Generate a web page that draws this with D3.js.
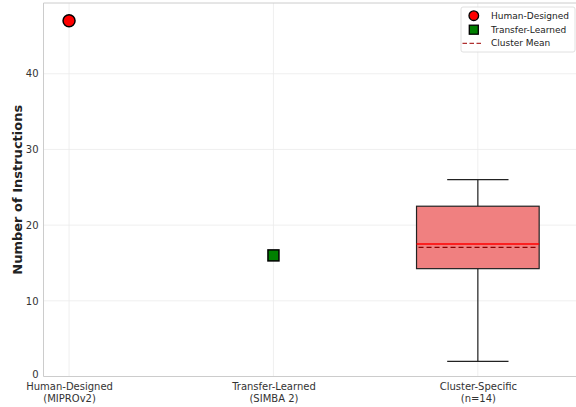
<!DOCTYPE html>
<html><head><meta charset="utf-8">
<script src="https://cdn.jsdelivr.net/npm/d3@7"></script>
<style>body{margin:0;background:#fff}svg{display:block;font-family:"DejaVu Sans",sans-serif}</style>
</head><body><svg id="c" width="576" height="407"></svg>
<script>
const categories = ["Human-Designed\n(MIPROv2)", "Transfer-Learned\n(SIMBA 2)", "Cluster-Specific\n(n=14)"];
const humanValue = 47;
const transferValue = 16;
const clusterStats = {min: 2, q1: 14.25, median: 17.5, q3: 22.5, max: 26, mean: 17.07};
const yTicks = [0, 10, 20, 30, 40];
const legendLabels = ["Human-Designed", "Transfer-Learned", "Cluster Mean"];

const svg = d3.select("#c");
const L = 43.5, T = 3, B = 376.5;
const x = d3.scaleLinear().domain([-0.125, 2.5]).range([L, L + 2.625 * 204.4]);
const y = d3.scaleLinear().domain([0, 49.35]).range([B, T]);
const R = 580;

const g = svg.append("g");
// grid
g.selectAll(".hg").data(yTicks).join("line")
  .attr("x1", L).attr("x2", R).attr("y1", d => y(d)).attr("y2", d => y(d))
  .attr("stroke", "#ebebeb").attr("stroke-width", 0.8);
g.selectAll(".vg").data([0,1,2]).join("line")
  .attr("x1", d => x(d)).attr("x2", d => x(d)).attr("y1", T).attr("y2", B)
  .attr("stroke", "#ebebeb").attr("stroke-width", 0.8);

// spines
g.append("line").attr("x1", L).attr("x2", L).attr("y1", T).attr("y2", B).attr("stroke", "#cccccc").attr("stroke-width", 1);
g.append("line").attr("x1", L).attr("x2", R).attr("y1", B).attr("y2", B).attr("stroke", "#cccccc").attr("stroke-width", 1);
g.append("line").attr("x1", L).attr("x2", R).attr("y1", T).attr("y2", T).attr("stroke", "#cccccc").attr("stroke-width", 1);

// y axis
const ya = d3.axisLeft(y).tickValues(yTicks).tickSize(0).tickPadding(5);
const yg = svg.append("g").attr("transform", `translate(${L},0)`).call(ya);
yg.select(".domain").remove();
yg.selectAll("text").attr("font-size", 10).attr("fill", "#333").attr("font-family", "DejaVu Sans");
yg.selectAll(".tick").filter(d => d === 0).select("text").attr("dy", "0.1em");

// x axis
const xa = d3.axisBottom(x).tickValues([0,1,2]).tickSize(0).tickFormat(() => "");
const xg = svg.append("g").attr("transform", `translate(0,${B})`).call(xa);
xg.select(".domain").remove();
xg.selectAll(".tick").each(function(d) {
  const lines = categories[d].split("\n");
  const t = d3.select(this).append("text").attr("fill", "#333").attr("font-size", 10)
    .attr("text-anchor", "middle").attr("font-family", "DejaVu Sans");
  lines.forEach((ln, i) => t.append("tspan").attr("x", 0).attr("y", 13.5 + i * 11.5).text(ln));
});

// y label
svg.append("text").attr("transform", `translate(22,${(T + B) / 2}) rotate(-90)`)
  .attr("text-anchor", "middle").attr("font-size", 13).attr("font-weight", "bold")
  .attr("fill", "#222").text("Number of Instructions");

// boxplot
const cx = x(2), bw = x(0.3) - x(0), cw = x(0.15) - x(0);
const bx = svg.append("g");
bx.append("line").attr("x1", cx).attr("x2", cx).attr("y1", y(clusterStats.q3)).attr("y2", y(clusterStats.max)).attr("stroke", "#222").attr("stroke-width", 1.2);
bx.append("line").attr("x1", cx).attr("x2", cx).attr("y1", y(clusterStats.q1)).attr("y2", y(clusterStats.min)).attr("stroke", "#222").attr("stroke-width", 1.2);
bx.append("line").attr("x1", cx - cw).attr("x2", cx + cw).attr("y1", y(clusterStats.max)).attr("y2", y(clusterStats.max)).attr("stroke", "#222").attr("stroke-width", 1.2);
bx.append("line").attr("x1", cx - cw).attr("x2", cx + cw).attr("y1", y(clusterStats.min)).attr("y2", y(clusterStats.min)).attr("stroke", "#222").attr("stroke-width", 1.2);
bx.append("rect").attr("x", cx - bw).attr("width", 2 * bw).attr("y", y(clusterStats.q3)).attr("height", y(clusterStats.q1) - y(clusterStats.q3))
  .attr("fill", "#f08080").attr("stroke", "#222").attr("stroke-width", 1.2);
bx.append("line").attr("x1", cx - bw).attr("x2", cx + bw).attr("y1", y(clusterStats.median)).attr("y2", y(clusterStats.median)).attr("stroke", "#ff0000").attr("stroke-width", 1.5);
bx.append("line").attr("x1", cx - bw + 2).attr("x2", cx + bw - 2).attr("y1", y(clusterStats.mean)).attr("y2", y(clusterStats.mean)).attr("stroke", "#8b0000").attr("stroke-width", 1.3).attr("stroke-dasharray", "5,3");

// points
svg.append("circle").attr("cx", x(0)).attr("cy", y(humanValue)).attr("r", 6).attr("fill", "#ff0000").attr("stroke", "#000").attr("stroke-width", 1.5);
svg.append("rect").attr("x", x(1) - 5.5).attr("y", y(transferValue) - 5.5).attr("width", 11).attr("height", 11).attr("fill", "#008000").attr("stroke", "#000").attr("stroke-width", 1.5);

// legend
const lg = svg.append("g").attr("transform", "translate(461,7)");
lg.append("rect").attr("width", 114).attr("height", 45).attr("rx", 2).attr("fill", "#fff").attr("fill-opacity", 0.8).attr("stroke", "#d8d8d8").attr("stroke-width", 0.8);
const rowsY = [8.7, 22.7, 36.3];
lg.append("circle").attr("cx", 12.8).attr("cy", rowsY[0]).attr("r", 4.8).attr("fill", "#ff0000").attr("stroke", "#000").attr("stroke-width", 1.3);
lg.append("rect").attr("x", 8.3).attr("y", rowsY[1] - 4.5).attr("width", 9).attr("height", 9).attr("fill", "#008000").attr("stroke", "#000").attr("stroke-width", 1.3);
lg.append("line").attr("x1", 1.5).attr("x2", 20).attr("y1", rowsY[2]).attr("y2", rowsY[2]).attr("stroke", "#b03030").attr("stroke-width", 1.3).attr("stroke-dasharray", "4.5,2.5");
legendLabels.forEach((t, i) => lg.append("text").attr("x", 30).attr("y", rowsY[i]).attr("dy", "0.35em")
  .attr("font-size", 9).attr("fill", "#222").text(t));
</script></body></html>
